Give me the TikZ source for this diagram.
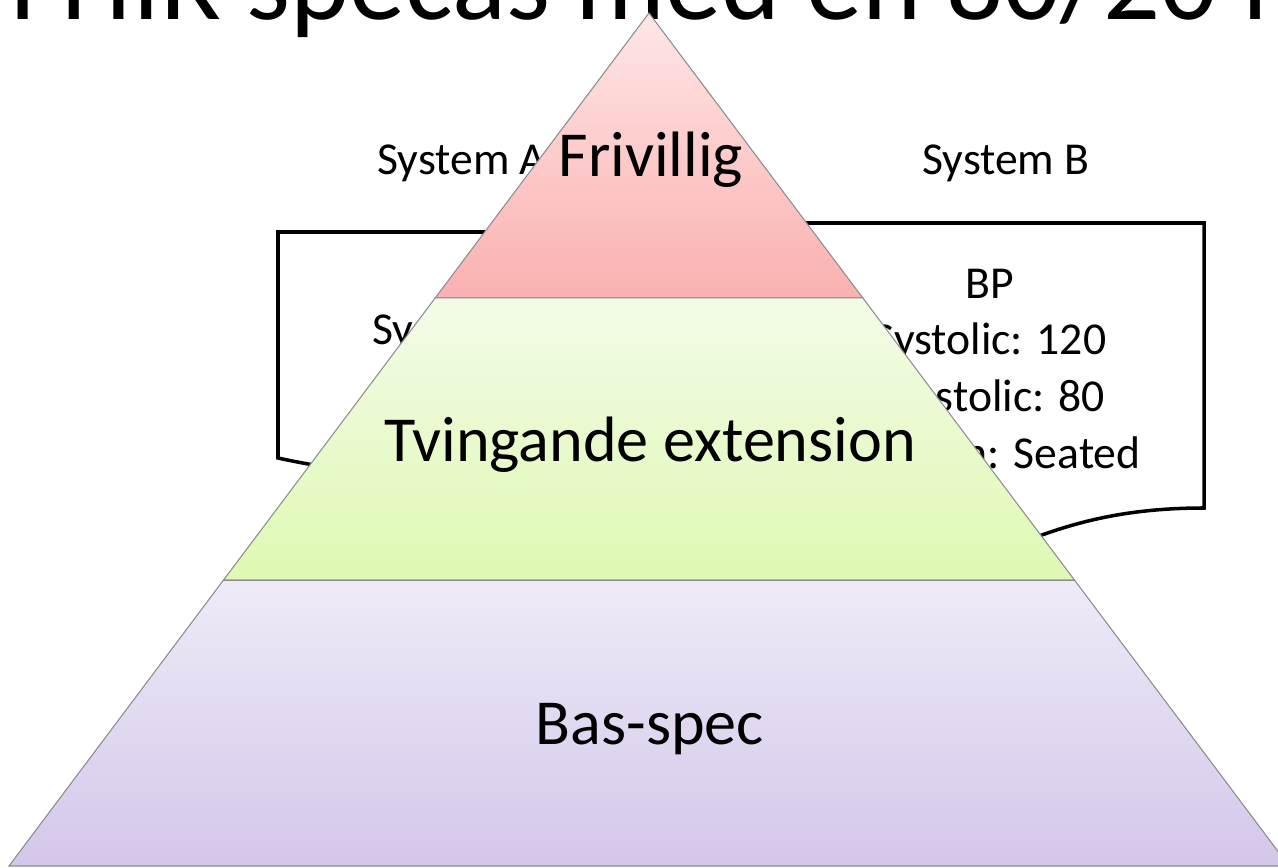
\documentclass[tikz,border=0pt]{standalone}
\usepackage{fontspec}
\setmainfont{Carlito}
\usetikzlibrary{calc}
\definecolor{frivtop}{RGB}{255,230,230}
\definecolor{frivbot}{RGB}{250,176,176}
\definecolor{tvingtop}{RGB}{243,251,232}
\definecolor{tvingbot}{RGB}{222,249,178}
\definecolor{bastop}{RGB}{238,235,247}
\definecolor{basbot}{RGB}{212,198,234}
\definecolor{edgegray}{RGB}{140,140,140}
\tikzset{
  layer/.style={draw=edgegray, line width=0.6pt},
  sysbox/.style={draw, line width=2pt, fill=white},
  big/.style={font=\fontsize{36.5}{43}\selectfont, inner sep=0pt, anchor=base},
  small/.style={font=\fontsize{26}{32.3}\selectfont, inner sep=0pt}
}

\begin{document}
\begin{tikzpicture}
\useasboundingbox (0,0) rectangle (25.56,-17.36);
\node[anchor=base west, inner sep=0pt, font=\fontsize{64}{76}\selectfont] (title) at (0.2,-0.4) {FHIR specas med en 80/20 r};

\node[small, anchor=base] (sysA) at (9.24,-3.5) {System A};
\node[small, anchor=base] (sysB) at (20.12,-3.5) {System B};

\draw[sysbox] (5.56,-4.64) -- (13.16,-4.64) -- (13.16,-8.52)
  .. controls (9.36,-8.52) and (9.36,-10.0) .. (5.56,-9.16) -- cycle;
\draw[sysbox] (15.52,-4.46) -- (24.08,-4.46) -- (24.08,-10.16)
  .. controls (19.8,-10.16) and (19.8,-12.32) .. (15.52,-11.10) -- cycle;
\node[small, anchor=base west] (valA) at (7.44,-6.9) {Systolic};
\node[small, align=center, anchor=north] (valB) at (19.8,-5.37) {BP\\Systolic: 120\\Diastolic: 80\\Position: Seated};

\coordinate (top) at (12.98,-0.26);
\coordinate (bl) at (0.18,-17.32);
\coordinate (br) at (25.78,-17.32);
\coordinate (l1) at ($(top)!0.334!(bl)$);
\coordinate (r1) at ($(top)!0.334!(br)$);
\coordinate (l2) at ($(top)!0.665!(bl)$);
\coordinate (r2) at ($(top)!0.665!(br)$);

\draw[layer, top color=frivtop, bottom color=frivbot] (top) -- (r1) -- (l1) -- cycle;
\draw[layer, top color=tvingtop, bottom color=tvingbot] (l1) -- (r1) -- (r2) -- (l2) -- cycle;
\draw[layer, top color=bastop, bottom color=basbot] (l2) -- (r2) -- (br) -- (bl) -- cycle;

\node[big] (friv) at (13.02,-3.54) {Frivillig};
\node[big] (tving) at (13.0,-9.24) {Tvingande extension};
\node[big] (bas) at (13.0,-14.9) {Bas-spec};
\end{tikzpicture}
\end{document}
